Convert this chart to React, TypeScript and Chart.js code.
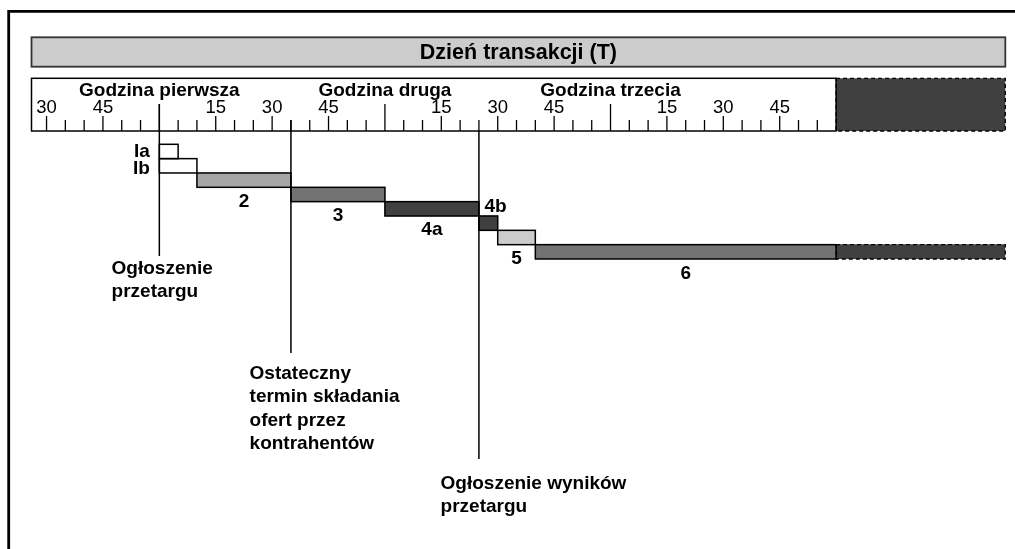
import React, { useEffect, useRef } from 'react';
import { Chart, registerables } from 'chart.js';

Chart.register(...registerables);

// ---------- data ----------
const title = 'Dzień transakcji (T)';
const rowLabels = ['Ia', 'Ib', '2', '3', '4a', '4b', '5', '6'];
const phaseStart = [0, 0, 10, 35, 60, 85, 90, 100];
const phaseEnd = [5, 10, 35, 60, 85, 90, 100, 180];
const extensionStart: (number | null)[] = [null, null, null, null, null, null, null, 180];
const extensionEnd: (number | null)[] = [null, null, null, null, null, null, null, 225];
const labelAt = [0, 0, 22.5, 47.5, 72.5, 85, 95, 140];
const labelPlace = ['left', 'left', 'below', 'below', 'below', 'aboveRight', 'below', 'below'];

const axisMin = -34;
const axisMax = 225;
const rulerEnd = 180;
const fiveMinuteTicks = [
  -30, -25, -20, -15, -10, -5, 0, 5, 10, 15, 20, 25, 30, 35, 40, 45, 50, 55,
  60, 65, 70, 75, 80, 85, 90, 95, 100, 105, 110, 115, 120, 125, 130, 135, 140,
  145, 150, 155, 160, 165, 170, 175,
];
const quarterTicks = [-30, -15, 15, 30, 45, 75, 90, 105, 135, 150, 165];
const quarterTickLabels = ['30', '45', '15', '30', '45', '15', '30', '45', '15', '30', '45'];
const hourTicks = [0, 60, 120];
const hourNames = ['Godzina pierwsza', 'Godzina druga', 'Godzina trzecia'];

const markerValues = [0, 35, 85];
const markerTexts = [
  ['Ogłoszenie', 'przetargu'],
  ['Ostateczny', 'termin składania', 'ofert przez', 'kontrahentów'],
  ['Ogłoszenie wyników', 'przetargu'],
];
const markerTextAt = [-12.7, 24, 74.8];

// ---------- styles / layout ----------
const FONT = '"Liberation Sans", Arial, Helvetica, sans-serif';
const phaseColors = ['#ffffff', '#ffffff', '#a6a6a6', '#737373', '#404040', '#404040', '#cccccc', '#737373'];
const extensionColor = '#404040';
const LAYOUT = {
  frameTop: 11.3,
  frameLeft: 8.7,
  titleTop: 37.3,
  titleBottom: 66.7,
  titleBaseline: 58.5,
  rulerTop: 78.3,
  rulerBottom: 131,
  hourNameBaseline: 96,
  tickLabelBaseline: 112.5,
  minorTickTop: 120,
  quarterTickTop: 116,
  hourTickTop: 104,
  markerTop: [104, 120, 131],
  markerBottom: [256, 353, 459],
  markerTextBaseline: [274, 379, 489],
  markerLineStep: 23.4,
};

const diagramPlugin = {
  id: 'diagram',
  beforeDatasetsDraw(chart: any) {
    const ctx: CanvasRenderingContext2D = chart.ctx;
    const xs = chart.scales.x;
    const L = LAYOUT;
    const left = xs.getPixelForValue(axisMin);
    const right = xs.getPixelForValue(axisMax);
    const rEnd = xs.getPixelForValue(rulerEnd);
    ctx.save();

    // outer frame (top + left)
    ctx.strokeStyle = '#000';
    ctx.lineWidth = 2.8;
    ctx.beginPath();
    ctx.moveTo(chart.width, L.frameTop);
    ctx.lineTo(L.frameLeft, L.frameTop);
    ctx.lineTo(L.frameLeft, chart.height);
    ctx.stroke();

    // title bar
    ctx.fillStyle = '#cccccc';
    ctx.fillRect(left, L.titleTop, right - left, L.titleBottom - L.titleTop);
    ctx.strokeStyle = '#333333';
    ctx.lineWidth = 1.8;
    ctx.strokeRect(left, L.titleTop, right - left, L.titleBottom - L.titleTop);
    ctx.fillStyle = '#000';
    ctx.font = `bold 21.5px ${FONT}`;
    ctx.textAlign = 'center';
    ctx.textBaseline = 'alphabetic';
    ctx.fillText(title, (left + right) / 2, L.titleBaseline);

    // ruler
    ctx.fillStyle = '#ffffff';
    ctx.fillRect(left, L.rulerTop, rEnd - left, L.rulerBottom - L.rulerTop);
    ctx.fillStyle = extensionColor;
    ctx.fillRect(rEnd, L.rulerTop, right - rEnd, L.rulerBottom - L.rulerTop);
    ctx.strokeStyle = '#000';
    ctx.lineWidth = 1.5;
    ctx.strokeRect(left, L.rulerTop, rEnd - left, L.rulerBottom - L.rulerTop);
    ctx.setLineDash([4, 3]);
    ctx.lineWidth = 1.3;
    ctx.strokeRect(rEnd, L.rulerTop, right - rEnd, L.rulerBottom - L.rulerTop);
    ctx.setLineDash([]);

    // ticks
    ctx.lineWidth = 1.3;
    ctx.strokeStyle = '#000';
    fiveMinuteTicks.forEach((v) => {
      const px = xs.getPixelForValue(v);
      let top = L.minorTickTop;
      if (hourTicks.includes(v)) top = L.hourTickTop;
      else if (quarterTicks.includes(v)) top = L.quarterTickTop;
      ctx.beginPath();
      ctx.moveTo(px, top);
      ctx.lineTo(px, L.rulerBottom);
      ctx.stroke();
    });

    ctx.fillStyle = '#000';
    ctx.font = `18.5px ${FONT}`;
    ctx.textAlign = 'center';
    quarterTicks.forEach((v, i) => {
      ctx.fillText(quarterTickLabels[i], xs.getPixelForValue(v), L.tickLabelBaseline);
    });
    ctx.font = `bold 19px ${FONT}`;
    hourTicks.forEach((v, i) => {
      ctx.fillText(hourNames[i], xs.getPixelForValue(v), L.hourNameBaseline);
    });
    ctx.restore();
  },
  afterDatasetsDraw(chart: any) {
    const ctx: CanvasRenderingContext2D = chart.ctx;
    const xs = chart.scales.x;
    const L = LAYOUT;
    ctx.save();

    // bar outlines
    const meta0 = chart.getDatasetMeta(0);
    const meta1 = chart.getDatasetMeta(1);
    ctx.strokeStyle = '#000';
    meta0.data.forEach((el: any) => {
      const p = el.getProps(['x', 'y', 'base', 'height'], true);
      const x0 = Math.min(p.x, p.base);
      const w = Math.abs(p.x - p.base);
      ctx.lineWidth = 1.5;
      ctx.strokeRect(x0, p.y - p.height / 2, w, p.height);
    });
    meta1.data.forEach((el: any, i: number) => {
      if (extensionStart[i] == null) return;
      const p = el.getProps(['x', 'y', 'base', 'height'], true);
      const x0 = Math.min(p.x, p.base);
      const w = Math.abs(p.x - p.base);
      ctx.lineWidth = 1.3;
      ctx.setLineDash([4, 3]);
      ctx.strokeRect(x0, p.y - p.height / 2, w, p.height);
      ctx.setLineDash([]);
    });

    // bar labels
    ctx.fillStyle = '#000';
    ctx.font = `bold 19px ${FONT}`;
    ctx.textBaseline = 'alphabetic';
    meta0.data.forEach((el: any, i: number) => {
      const p = el.getProps(['x', 'y', 'base', 'height'], true);
      const top = p.y - p.height / 2;
      const bottom = p.y + p.height / 2;
      const ax = xs.getPixelForValue(labelAt[i]);
      const place = labelPlace[i];
      if (place === 'left') {
        ctx.textAlign = 'right';
        const base = i === 0 ? bottom - 2 : bottom + 1;
        ctx.fillText(rowLabels[i], ax - 9.5, base);
      } else if (place === 'aboveRight') {
        ctx.textAlign = 'left';
        ctx.fillText(rowLabels[i], ax + 5.5, top - 4.3);
      } else {
        ctx.textAlign = 'center';
        ctx.fillText(rowLabels[i], ax, bottom + 19.5);
      }
    });

    // marker lines and texts
    ctx.strokeStyle = '#000';
    ctx.lineWidth = 1.5;
    markerValues.forEach((v, i) => {
      const px = xs.getPixelForValue(v);
      ctx.beginPath();
      ctx.moveTo(px, L.markerTop[i]);
      ctx.lineTo(px, L.markerBottom[i]);
      ctx.stroke();
      ctx.textAlign = 'left';
      ctx.font = `bold 19px ${FONT}`;
      const tx = xs.getPixelForValue(markerTextAt[i]);
      markerTexts[i].forEach((line, j) => {
        ctx.fillText(line, tx, L.markerTextBaseline[i] + j * L.markerLineStep);
      });
    });
    ctx.restore();
  },
};

export default function App() {
  const canvasRef = useRef<HTMLCanvasElement | null>(null);

  useEffect(() => {
    if (!canvasRef.current) return;
    const chart = new Chart(canvasRef.current, {
      type: 'bar',
      data: {
        labels: rowLabels,
        datasets: [
          {
            data: phaseStart.map((s, i) => [s, phaseEnd[i]]) as any,
            backgroundColor: phaseColors,
            borderWidth: 0,
            grouped: false,
            barPercentage: 1,
            categoryPercentage: 1,
          } as any,
          {
            data: extensionStart.map((s, i) => (s == null ? null : [s, extensionEnd[i]])) as any,
            backgroundColor: extensionColor,
            borderWidth: 0,
            grouped: false,
            barPercentage: 1,
            categoryPercentage: 1,
          } as any,
        ],
      },
      options: {
        indexAxis: 'y',
        animation: false,
        responsive: true,
        maintainAspectRatio: false,
        layout: { padding: { left: 31.5, right: 9.7, top: 144.3, bottom: 290 } },
        scales: {
          x: { type: 'linear', min: axisMin, max: axisMax, display: false },
          y: { display: false },
        },
        plugins: {
          legend: { display: false },
          tooltip: { enabled: false },
        },
      } as any,
      plugins: [diagramPlugin],
    });
    return () => chart.destroy();
  }, []);

  return (
    <div style={{ position: 'fixed', left: 0, top: 0, width: 1015, height: 549, background: '#fff' }}>
      <canvas ref={canvasRef} />
    </div>
  );
}
